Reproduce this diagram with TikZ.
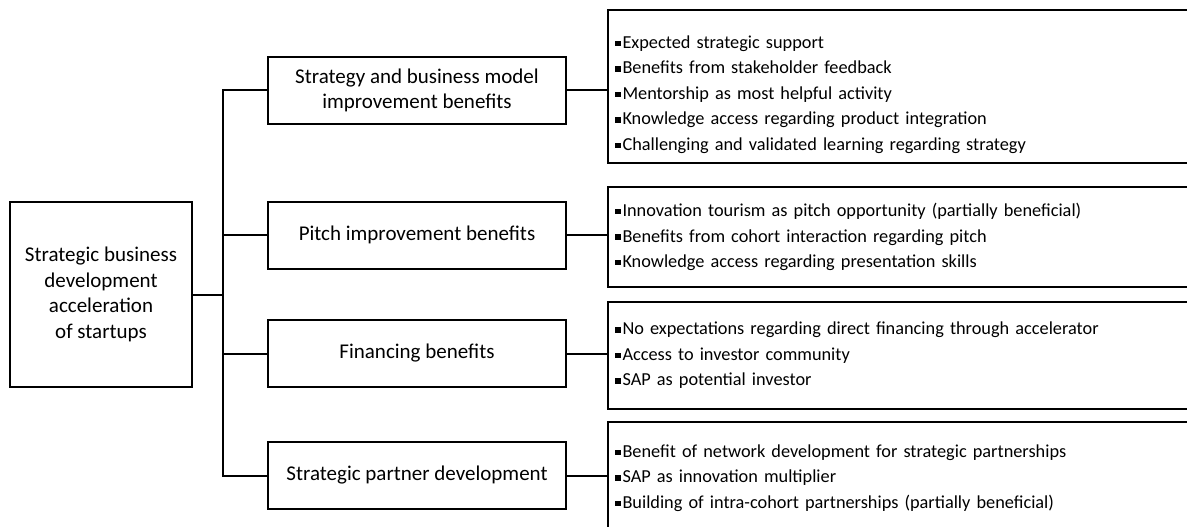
\documentclass[tikz,border=0pt]{standalone}
\usepackage{fontspec}
\setmainfont{Carlito}
\usetikzlibrary{positioning}

\newcommand{\sqb}{\raisebox{0.25ex}{\rule{5.5pt}{5.5pt}}\hspace{2pt}}

\begin{document}
\begin{tikzpicture}[x=1pt,y=-1pt,line width=2pt,
    box/.style={draw,line width=2pt,align=center,inner sep=0pt,font=\fontsize{21}{25.5}\selectfont},
    rootbox/.style={box,minimum width=182pt,minimum height=185pt},
    catbox/.style={box,minimum width=298pt,minimum height=67pt},
    listbox/.style={draw,line width=2pt,anchor=north west,text width=572pt,align=left,
        inner xsep=7pt,inner ysep=0pt,font=\fontsize{18.3}{25.5}\selectfont}]
            \useasboundingbox (0,0) rectangle (1187,527);
            \clip (0,0) rectangle (1187,527);

            \coordinate (trunk) at (223,0);

            \node[rootbox] (root) at (101,294.5) {Strategic business\\development\\acceleration\\of startups};

            \node[catbox] (catA) at (417,90.5) {Strategy and business model\\improvement benefits};
            \node[catbox] (catB) at (417,235) {Pitch improvement benefits};
            \node[catbox] (catC) at (417,353.5) {Financing benefits};
            \node[catbox] (catD) at (417,475.5) {Strategic partner development};

            \node[listbox,minimum height=153pt] (listA) at (607,9) {\rule{0pt}{29pt}\sqb Expected strategic support\\
                \sqb Benefits from stakeholder feedback\\
                \sqb Mentorship as most helpful activity\\
                \sqb Knowledge access regarding product integration\\
                \sqb Challenging and validated learning regarding strategy};
            \node[listbox,minimum height=100pt] (listB) at (607,186) {\sqb Innovation tourism as pitch opportunity (partially beneficial)\\
                \sqb Benefits from cohort interaction regarding pitch\\
                \sqb Knowledge access regarding presentation skills};
            \node[listbox,minimum height=107pt] (listC) at (607,301) {\sqb No expectations regarding direct financing through accelerator\\
                \sqb Access to investor community\\
                \sqb SAP as potential investor};
            \node[listbox,minimum height=112pt] (listD) at (607,421) {\sqb Benefit of network development for strategic partnerships\\
                \sqb SAP as innovation multiplier\\
                \sqb Building of intra-cohort partnerships (partially beneficial)};

            \draw (root.east) -- (root.east -| trunk);
            \draw (catA.west) -- (catA.west -| trunk) -- (catD.west -| trunk) -- (catD.west);
            \draw (catB.west) -- (catB.west -| trunk);
            \draw (catC.west) -- (catC.west -| trunk);

            \draw (catA.east) -- (catA.east -| listA.west);
            \draw (catB.east) -- (catB.east -| listB.west);
            \draw (catC.east) -- (catC.east -| listC.west);
            \draw (catD.east) -- (catD.east -| listD.west);
\end{tikzpicture}
\end{document}
